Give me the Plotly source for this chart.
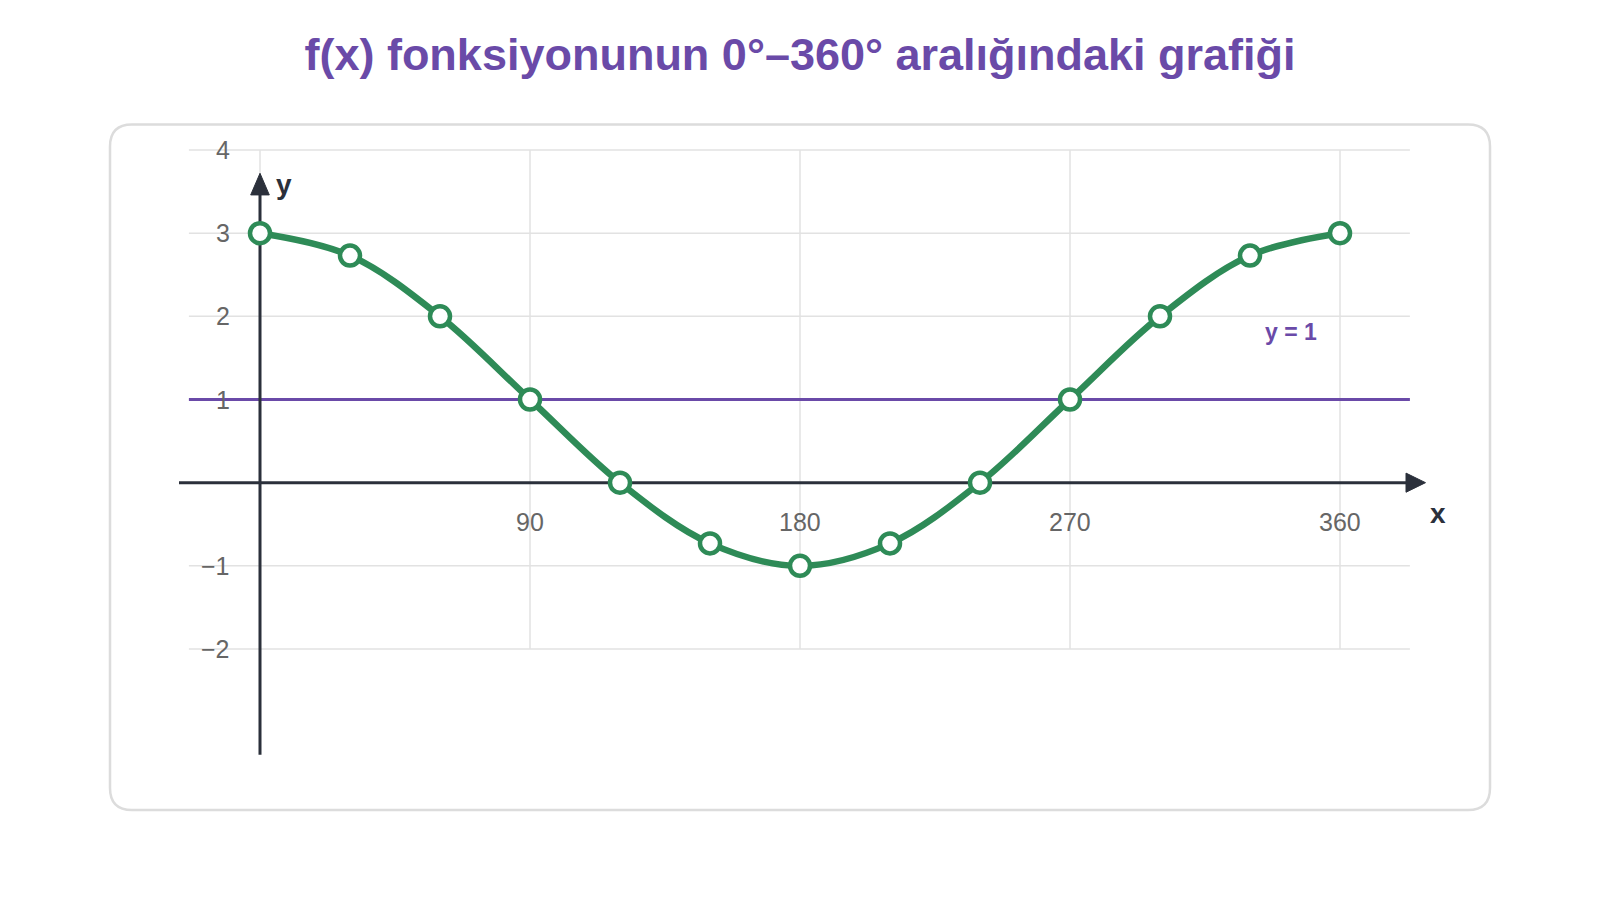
import plotly.graph_objects as go

# ---- data ----
x_deg = [0, 30, 60, 90, 120, 150, 180, 210, 240, 270, 300, 330, 360]
f_vals = [3, 2.73, 2, 1, 0, -0.73, -1, -0.73, 0, 1, 2, 2.73, 3]
x_tick_vals = [90, 180, 270, 360]
x_tick_text = ["90", "180", "270", "360"]
y_tick_vals = [4, 3, 2, 1, -1, -2]
y_tick_text = ["4", "3", "2", "1", "\u22121", "\u22122"]
grid_x = [0, 90, 180, 270, 360]
grid_y = [-2, -1, 0, 1, 2, 3, 4]
ref_line_y = 1

# ---- layout geometry (page has an 8px body margin) ----
OFF = 8
W, H = 1584, 884
ML, MT = 132, 116
PW, PH = 1320, 658
MR, MB = W - ML - PW, H - MT - PH
XR = [-40, 400]
YR = [-3.599, 4.3126]

def px_x(p):
    return (p - OFF - ML) / PW

def px_y(p):
    return (MT + PH - (p - OFF)) / PH

GREEN = "#2e8b57"
PURPLE = "#6a4aa8"
DARK = "#2b303b"
GRID = "#e2e2e2"
TICK = "#666666"
FONT = "Liberation Sans, Arial, sans-serif"

fig = go.Figure()

fig.add_trace(go.Scatter(
    x=x_deg, y=f_vals, mode="lines+markers",
    line=dict(color=GREEN, width=6.5, shape="spline", smoothing=1.0),
    marker=dict(size=20, color="white", line=dict(color=GREEN, width=4.5)),
    hoverinfo="x+y", showlegend=False,
))

shapes = []
# rounded card
x0, x1 = px_x(110), px_x(1490)
y0, y1 = px_y(810), px_y(124.5)
rx, ry = 22 / PW, 22 / PH
path = (f"M {x0+rx},{y1} L {x1-rx},{y1} Q {x1},{y1} {x1},{y1-ry} "
        f"L {x1},{y0+ry} Q {x1},{y0} {x1-rx},{y0} L {x0+rx},{y0} "
        f"Q {x0},{y0} {x0},{y0+ry} L {x0},{y1-ry} Q {x0},{y1} {x0+rx},{y1} Z")
shapes.append(dict(type="path", xref="paper", yref="paper", path=path,
                   line=dict(color="#dcdcdc", width=2.5), fillcolor="rgba(0,0,0,0)",
                   layer="below"))

gx0, gx1 = -23.7, 383.3
for gy in grid_y:
    shapes.append(dict(type="line", xref="x", yref="y", x0=gx0, x1=gx1, y0=gy, y1=gy,
                       line=dict(color=GRID, width=1.5), layer="below"))
for gx in grid_x:
    shapes.append(dict(type="line", xref="x", yref="y", x0=gx, x1=gx, y0=-2, y1=4,
                       line=dict(color=GRID, width=1.5), layer="below"))

# reference line y = 1
shapes.append(dict(type="line", xref="x", yref="y", x0=gx0, x1=gx1, y0=ref_line_y, y1=ref_line_y,
                   line=dict(color=PURPLE, width=3), layer="below"))

# x axis with arrow
shapes.append(dict(type="line", xref="x", yref="y", x0=-27, x1=383, y0=0, y1=0,
                   line=dict(color=DARK, width=3), layer="below"))
shapes.append(dict(type="path", xref="x", yref="y",
                   path="M 382,0.115 L 388.5,0 L 382,-0.115 Z",
                   fillcolor=DARK, line=dict(color=DARK, width=1), layer="below"))
# y axis with arrow
shapes.append(dict(type="line", xref="x", yref="y", x0=0, x1=0, y0=-3.27, y1=3.47,
                   line=dict(color=DARK, width=3), layer="below"))
shapes.append(dict(type="path", xref="x", yref="y",
                   path="M -3.1,3.46 L 0,3.72 L 3.1,3.46 Z",
                   fillcolor=DARK, line=dict(color=DARK, width=1), layer="below"))

annotations = []
for v, t in zip(y_tick_vals, y_tick_text):
    annotations.append(dict(x=-9.5, y=v, xref="x", yref="y", text=t, showarrow=False,
                            xanchor="right", yanchor="middle",
                            font=dict(family=FONT, size=25, color=TICK)))
for v, t in zip(x_tick_vals, x_tick_text):
    annotations.append(dict(x=v, y=-0.47, xref="x", yref="y", text=t, showarrow=False,
                            xanchor="center", yanchor="middle",
                            font=dict(family=FONT, size=25, color=TICK)))
annotations.append(dict(x=392.6, y=-0.37, xref="x", yref="y", text="<b>x</b>", showarrow=False,
                        xanchor="center", yanchor="middle",
                        font=dict(family=FONT, size=28, color=DARK)))
annotations.append(dict(x=7.9, y=3.59, xref="x", yref="y", text="<b>y</b>", showarrow=False,
                        xanchor="center", yanchor="middle",
                        font=dict(family=FONT, size=28, color=DARK)))
annotations.append(dict(x=343.6, y=1.81, xref="x", yref="y", text="<b>y = 1</b>", showarrow=False,
                        xanchor="center", yanchor="middle",
                        font=dict(family=FONT, size=23, color=PURPLE)))

fig.update_layout(
    width=W, height=H,
    margin=dict(l=ML, r=MR, t=MT, b=MB),
    paper_bgcolor="white", plot_bgcolor="rgba(0,0,0,0)",
    title=dict(text="<b>f(x) fonksiyonunun 0°–360° aralığındaki grafiği</b>",
               x=(800 - OFF) / W, xref="container", xanchor="center",
               y=1 - (54 - OFF) / H, yref="container", yanchor="middle",
               font=dict(family=FONT, size=45, color=PURPLE)),
    xaxis=dict(range=XR, showgrid=False, zeroline=False, showticklabels=False,
               showline=False, ticks="", fixedrange=True),
    yaxis=dict(range=YR, showgrid=False, zeroline=False, showticklabels=False,
               showline=False, ticks="", fixedrange=True),
    shapes=shapes, annotations=annotations,
)

fig.write_html("out.html")
